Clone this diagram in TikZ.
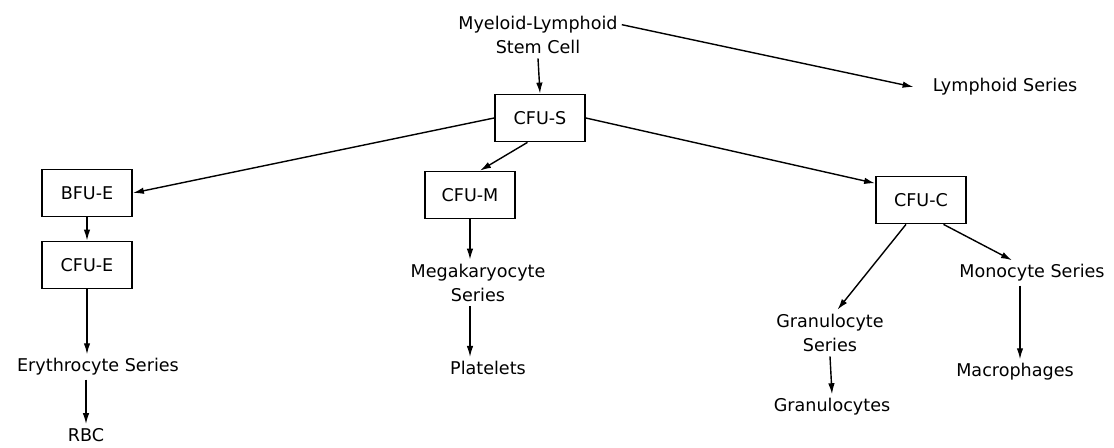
\documentclass[tikz,border=0pt]{standalone}
\usepackage{fontspec}
\setsansfont{DejaVu Sans}
\usetikzlibrary{arrows.meta}

\begin{document}
\begin{tikzpicture}[>={Latex[length=2.2mm,width=1.3mm]},thick,
  font=\sffamily\fontsize{10}{14}\selectfont,
  cell/.style={draw,line width=1pt,minimum width=1.8cm,minimum height=0.94cm},
  series/.style={align=center,inner sep=2pt}]
\useasboundingbox (0,0) rectangle (22.28,-8.96);

% Stem cell and the first split.
\node[series] (stem) at (10.76,-0.70) {Myeloid-Lymphoid\\Stem Cell};
\node[series] (lymph) at (20.10,-1.74) {Lymphoid Series};
\node[cell] (cfus) at (10.80,-2.36) {CFU-S};

% Committed progenitors.
\node[cell] (bfue) at (1.74,-3.86) {BFU-E};
\node[cell] (cfue) at (1.74,-5.30) {CFU-E};
\node[cell] (cfum) at (9.40,-3.90) {CFU-M};
\node[cell] (cfuc) at (18.42,-4.00) {CFU-C};

% Series and end cells.
\node[series] (ery) at (1.96,-7.34) {Erythrocyte Series};
\node[series] (rbc) at (1.72,-8.70) {RBC};
\node[series] (mega) at (9.56,-5.66) {Megakaryocyte\\Series};
\node[series] (plat) at (9.76,-7.36) {Platelets};
\node[series] (gran) at (16.60,-6.66) {Granulocyte\\Series};
\node[series] (granc) at (16.64,-8.14) {Granulocytes};
\node[series] (mono) at (20.64,-5.46) {Monocyte Series};
\node[series] (macro) at (20.30,-7.44) {Macrophages};

\draw[->] ([yshift=-0.26cm]stem.north east) -- ([xshift=-0.3cm]lymph.west);
\draw[->] (stem.south) -- (cfus.north);
\draw[->] (cfus.west) -- (bfue.east);
\draw[->] ([xshift=-0.25cm]cfus.south) -- ([xshift=0.2cm]cfum.north);
\draw[->] (cfus.east) -- (cfuc.160);

% Erythroid line.
\draw[->] (bfue.south) -- (cfue.north);
\draw[->] (cfue.south) -- (cfue.south |- ery.north);
\draw[->] (rbc |- ery.south) -- (rbc.north);

% Megakaryocyte line.
\draw[->] (cfum.south) -- (cfum.south |- mega.north);
\draw[->] (cfum |- mega.south) -- (cfum |- plat.north);

% Granulocyte and monocyte lines.
\draw[->] ([xshift=-0.3cm]cfuc.south) -- ([xshift=0.15cm]gran.north);
\draw[->] (gran.south) -- (granc.north);
\draw[->] ([xshift=0.45cm]cfuc.south) -- ([xshift=-0.4cm]mono.north);
\draw[->] ([xshift=0.1cm]macro |- mono.south) -- ([xshift=0.1cm]macro.north);
\end{tikzpicture}
\end{document}
